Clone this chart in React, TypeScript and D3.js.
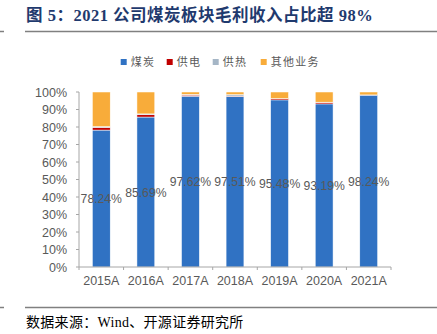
import React from 'react';
import * as d3 from 'd3';

const categories = ['2015A', '2016A', '2017A', '2018A', '2019A', '2020A', '2021A'];
const seriesNames = ['煤炭', '供电', '供热', '其他业务'];
const coal = [78.24, 85.69, 97.62, 97.51, 95.48, 93.19, 98.24];
const power = [1.5, 1.3, 0.6, 0.2, 0.7, 0.9, 0.05];
const heat = [0.5, 0.5, 0.4, 0.8, 0.1, 0.1, 0.05];
const other = [19.76, 12.51, 1.38, 1.49, 3.72, 5.81, 1.66];
const coalLabels = ['78.24%', '85.69%', '97.62%', '97.51%', '95.48%', '93.19%', '98.24%'];
const yTicks = [0, 10, 20, 30, 40, 50, 60, 70, 80, 90, 100];

const colors = ['#3072C3', '#C00000', '#A5B6C6', '#F8AC3A'];
const W = 437, H = 334;
const left = 79, right = 391, top = 92, bottom = 267;

export default function App() {
  const x = d3.scaleBand<string>().domain(categories).range([left, right]).paddingInner(0.6).paddingOuter(0.3);
  const xb = d3.scaleBand<string>().domain(categories).range([left, right]).padding(0);
  const y = d3.scaleLinear().domain([0, 100]).range([bottom, top]);
  const table = categories.map((c, i) => ({ cat: c, s0: coal[i], s1: power[i], s2: heat[i], s3: other[i] }));
  const stack = d3.stack<any>().keys(['s0', 's1', 's2', 's3'])(table);
  const gray = '#595959';
  const axisCol = '#A6A6A6';
  const legendX = [120.7, 166.7, 212.7, 260.7];
  return (
    <svg width={W} height={H} style={{ position: 'absolute', left: 0, top: 0, background: '#fff' }}>
      <text x={26} y={21} fontFamily="'Liberation Serif', 'Noto Sans CJK SC', serif" fontWeight="bold" fontSize={16.5} letterSpacing={0.5} fill="#1F3A6E">图 5：2021 公司煤炭板块毛利收入占比超 98%</text>
      <line x1={0} x2={4} y1={31.5} y2={31.5} stroke="#808080" strokeWidth={1.5} />
      <line x1={25} x2={W} y1={31.5} y2={31.5} stroke="#808080" strokeWidth={1.5} />

      {seriesNames.map((n, i) => (
        <g key={n}>
          <rect x={legendX[i]} y={59} width={6} height={6} fill={colors[i]} />
          <text x={legendX[i] + 10} y={66} fontSize={11} letterSpacing={1.3} fill={gray} fontFamily="'Noto Sans CJK SC', sans-serif">{n}</text>
        </g>
      ))}

      {stack.map((layer, si) => (
        <g key={si} fill={colors[si]}>
          {layer.map((d: any, i: number) => (
            <rect key={i} x={x(categories[i])} width={x.bandwidth()} y={y(d[1])} height={Math.max(0, y(d[0]) - y(d[1]))} stroke="#fff" strokeWidth={0.5} />
          ))}
        </g>
      ))}

      <line x1={left} x2={left} y1={top} y2={bottom} stroke={axisCol} />
      {yTicks.map(t => (
        <g key={t}>
          <line x1={left - 3} x2={left} y1={y(t)} y2={y(t)} stroke={axisCol} />
          <text x={67} y={y(t) + 4.5} textAnchor="end" fontSize={12.5} fill={gray} fontFamily="'Liberation Sans', Arial, sans-serif">{t}%</text>
        </g>
      ))}
      <line x1={left} x2={right} y1={bottom} y2={bottom} stroke={axisCol} />
      {[...categories.map(c => xb(c) as number), right].map((v, i) => (
        <line key={i} x1={v} x2={v} y1={bottom} y2={bottom + 3} stroke={axisCol} />
      ))}
      {categories.map(c => (
        <text key={c} x={(xb(c) as number) + xb.bandwidth() / 2} y={285} textAnchor="middle" fontSize={12.5} fill={gray} fontFamily="'Liberation Sans', Arial, sans-serif">{c}</text>
      ))}
      {categories.map((c, i) => (
        <text key={c} x={(xb(c) as number) + xb.bandwidth() / 2} y={y(coal[i] / 2) + 4.5} textAnchor="middle" fontSize={12.2} fill={gray} fontFamily="'Liberation Sans', Arial, sans-serif">{coalLabels[i]}</text>
      ))}

      <line x1={0} x2={4} y1={307.5} y2={307.5} stroke="#808080" strokeWidth={1.5} />
      <line x1={25} x2={W} y1={307.5} y2={307.5} stroke="#808080" strokeWidth={1.5} />
      <text x={26} y={327} fontSize={14} letterSpacing={0.3} fill="#000" fontFamily="'Liberation Serif', 'Noto Sans CJK SC', serif">数据来源：Wind、开源证券研究所</text>
    </svg>
  );
}
